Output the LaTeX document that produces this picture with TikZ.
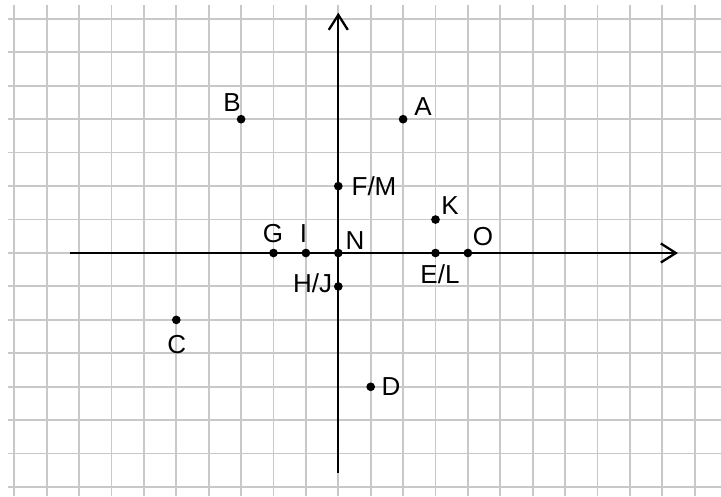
\documentclass[tikz,border=0pt]{standalone}
\usepackage{fontspec}
\setmainfont{Liberation Sans}
\usetikzlibrary{arrows.meta}
\definecolor{gridgray}{RGB}{200,200,200}
\begin{document}
\begin{tikzpicture}[x=1pt,y=-1pt,
  gridline/.style={draw=gridgray, line width=1.8pt},
  axis/.style={line width=2.3pt, -{Straight Barb[length=15pt,width=19pt]}},
  dot/.style={circle, fill=black, inner sep=0pt, minimum size=8.7pt},
  lbl/.style={anchor=base, inner sep=0pt, font=\fontsize{26}{30}\selectfont}]
\useasboundingbox (0,0) rectangle (721,496);
\fill[white] (0,0) rectangle (721,496);
\foreach \k in {0,...,21} \draw[gridline] ({14.3+32.4*\k},5) -- ({14.3+32.4*\k},496);
\foreach \k in {0,...,14} \draw[gridline] (8,{18.7+33.45*\k}) -- (721,{18.7+33.45*\k});
\coordinate (xs) at (70,253);
\coordinate (xe) at (678,253);
\coordinate (ys) at (338.3,473);
\coordinate (ye) at (338.3,12.7);
\draw[axis] (xs) -- (xe);
\draw[axis] (ys) -- (ye);
\begin{scope}[shift={(338.3,253)}, x=32.4pt, y=33.45pt]
  \node[dot] (A) at (2,4) {};
  \node[dot] (B) at (-3,4) {};
  \node[dot] (C) at (-5,-2) {};
  \node[dot] (D) at (1,-4) {};
  \node[dot] (FM) at (0,2) {};
  \node[dot] (K) at (3,1) {};
  \node[dot] (O) at (4,0) {};
  \node[dot] (EL) at (3,0) {};
  \node[dot] (G) at (-2,0) {};
  \node[dot] (I) at (-1,0) {};
  \node[dot] (HJ) at (0,-1) {};
  \node[dot] (N) at (0,0) {};
\end{scope}
\node[lbl] (lA) at (423,115.7) {A};
\node[lbl] (lB) at (232,111.7) {B};
\node[lbl] (lC) at (176.7,353) {C};
\node[lbl] (lD) at (391,395) {D};
\node[lbl] (lFM) at (374,195.7) {F/M};
\node[lbl] (lK) at (450,214) {K};
\node[lbl] (lG) at (273,242) {G};
\node[lbl] (lI) at (303.5,242) {I};
\node[lbl] (lN) at (355,249) {N};
\node[lbl] (lO) at (483,245) {O};
\node[lbl] (lEL) at (440,283.3) {E/L};
\node[lbl] (lHJ) at (312.5,292.3) {H/J};
\end{tikzpicture}
\end{document}
